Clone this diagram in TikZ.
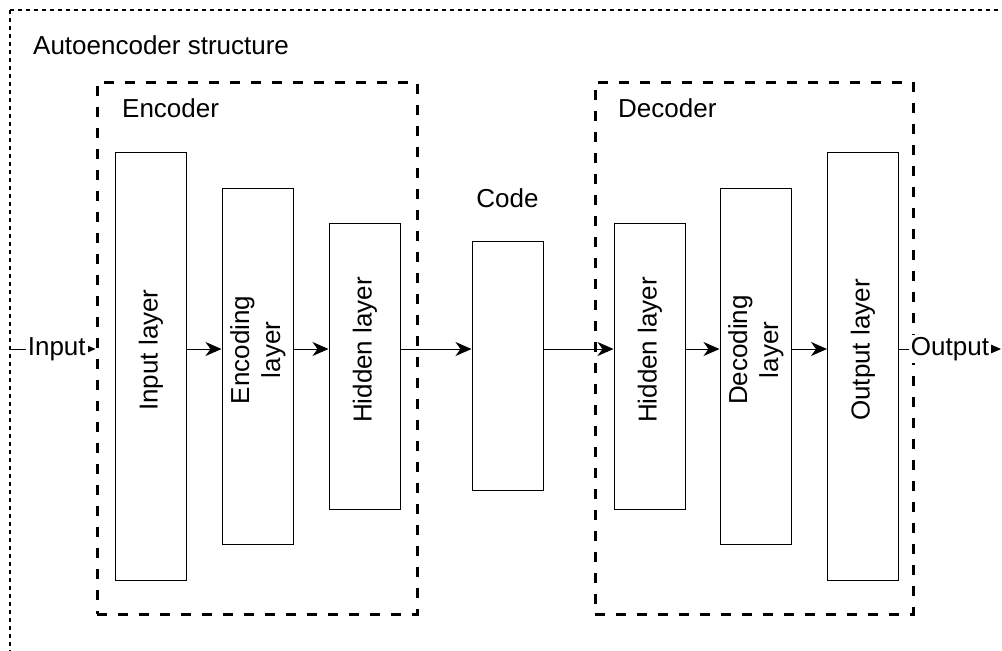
\documentclass[tikz,border=0pt]{standalone}
\usepackage{fontspec}
\setmainfont{Liberation Sans}
\usetikzlibrary{positioning, arrows.meta}
\tikzstyle{every node}=[font=\fontsize{13}{15.5}\selectfont]
\tikzstyle{layer}=[draw,fill=white,rectangle,minimum width=35.5pt,inner sep=0pt]
\tikzstyle{vtext}=[rotate=90,align=center,inner sep=0pt]
\tikzstyle{group}=[draw,rectangle,line width=1.5pt,dash pattern=on 5pt off 5.5pt,minimum height=266pt,inner sep=0pt]
\tikzstyle{outer}=[line width=0.6pt,dash pattern=on 2pt off 2pt]
\tikzstyle{edgelabel}=[fill=white,inner sep=1pt]
\tikzstyle{flow}=[-{Stealth[length=8pt,width=7pt,inset=2.5pt]}]

\begin{document}
\begin{tikzpicture}[x=0.5pt, y=-0.5pt, line width=0.5pt]
    \useasboundingbox (0,0) rectangle (1002,650);
    \clip (0,0) rectangle (1002,650);
    \draw[outer] (10,10) rectangle (1040,690);
    \node[anchor=west] (title) at (26,45) {Autoencoder structure};

    % encoder / decoder groups
    \node[group, minimum width=160pt] (encoder) at (257,348) {};
    \node[group, minimum width=159pt] (decoder) at (754,348) {};
    \node[anchor=west] (enctitle) at (115,108) {Encoder};
    \node[anchor=west] (dectitle) at (611,108) {Decoder};

    % layers
    \node[layer, minimum height=214pt] (inlayer) at (151,366) {};
    \node[layer, minimum height=178pt] (enclayer) at (257.5,366) {};
    \node[layer, minimum height=143pt] (hidenc) at (364.5,366) {};
    \node[layer, minimum height=124.5pt] (code) at (507.5,365.5) {};
    \node[layer, minimum height=143pt] (hiddec) at (649.5,366) {};
    \node[layer, minimum height=178pt] (declayer) at (755.5,366) {};
    \node[layer, minimum height=214pt] (outlayer) at (863,366) {};
    \node (codetitle) at (507.5,198) {Code};

    \node[vtext] (intext) at (151,350) {Input layer};
    \node[vtext] (enctext) at (258,350) {Encoding\\layer};
    \node[vtext] (hidenctext) at (365,350) {Hidden layer};
    \node[vtext] (hiddectext) at (650,350) {Hidden layer};
    \node[vtext] (dectext) at (756,350) {Decoding\\layer};
    \node[vtext] (outtext) at (863,350) {Output layer};

    % connections
    \coordinate (row) at (0,349);
    \coordinate (in) at (10,349);
    \coordinate (out) at (1001,349);
    \draw[flow] (in) -- node[edgelabel,xshift=2pt] {Input} (encoder.west |- row);
    \draw[flow] (inlayer.east |- row) -- (enclayer.west |- row);
    \draw[flow] (enclayer.east |- row) -- (hidenc.west |- row);
    \draw[flow] (hidenc.east |- row) -- (code.west |- row);
    \draw[flow] (code.east |- row) -- (hiddec.west |- row);
    \draw[flow] (hiddec.east |- row) -- (declayer.west |- row);
    \draw[flow] (declayer.east |- row) -- (outlayer.west |- row);
    \draw[flow] (outlayer.east |- row) -- node[edgelabel] {Output} (out);
\end{tikzpicture}
\end{document}
